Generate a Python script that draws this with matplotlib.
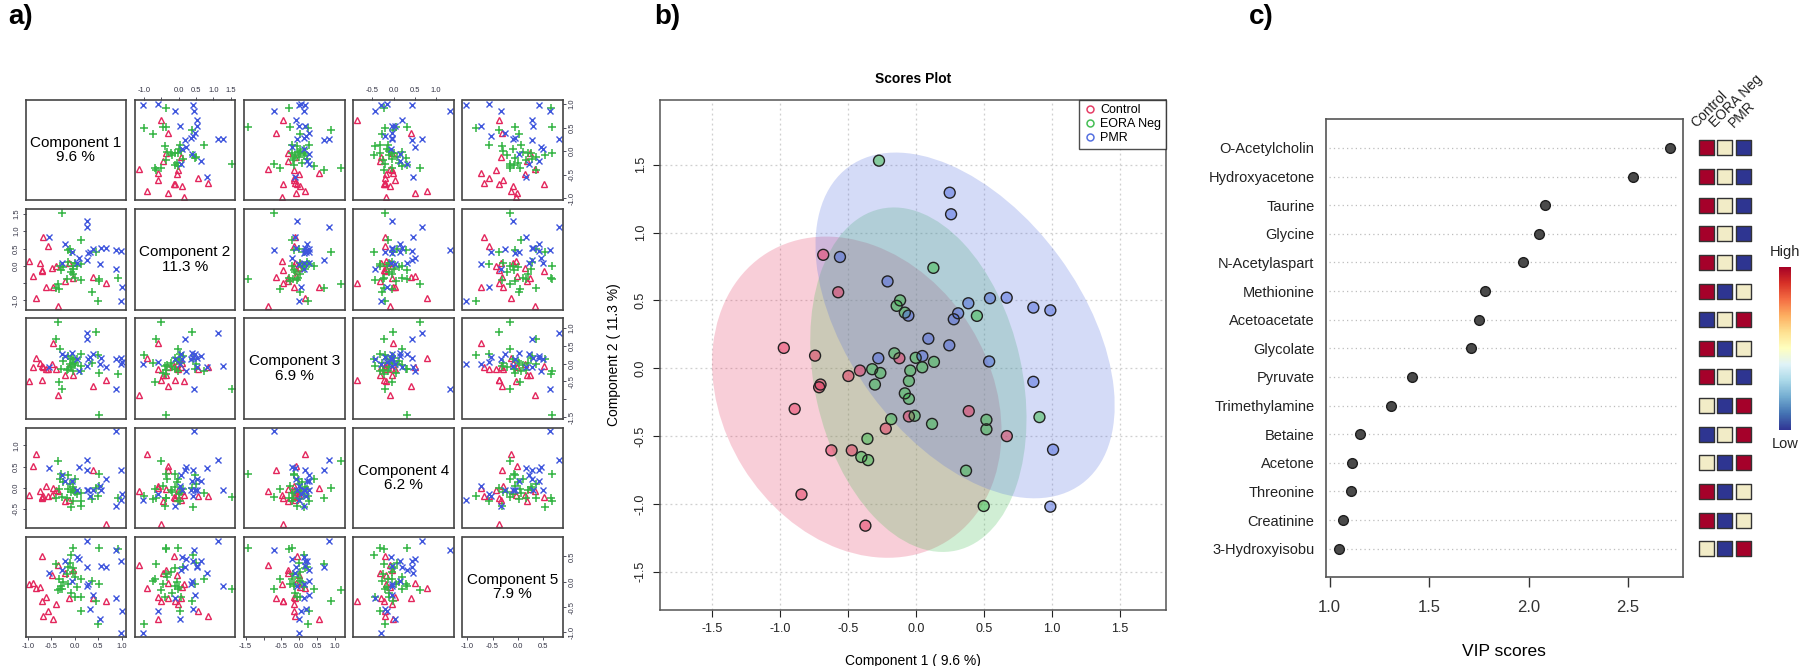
import numpy as np
import matplotlib.pyplot as plt
from matplotlib.patches import Ellipse
from matplotlib.colors import ListedColormap
from matplotlib.lines import Line2D

plt.rcParams['font.family'] = ['Liberation Sans', 'DejaVu Sans']

W, H = 1800, 666

# ---- PLS-DA scores (components 1-5) per group ----
GROUPS = ["Control", "EORA Neg", "PMR"]
EXPLAINED = [9.6, 11.3, 6.9, 6.2, 7.9]

control_c1 = [-0.68, -0.57, -0.97, -0.74, -0.12, -0.41, -0.495, -0.70, -0.71, -0.89, 0.39, 0.67, -0.05, -0.22, -0.62, -0.47, -0.84, -0.37]
control_c2 = [0.836, 0.56, 0.15, 0.093, 0.074, -0.017, -0.057, -0.12, -0.14, -0.30, -0.316, -0.50, -0.355, -0.445, -0.605, -0.605, -0.93, -1.16]
control_c3 = [-0.11, -0.16, -0.485, 0.025, -0.11, -0.16, -0.003, -0.46, -0.07, -0.086, -0.64, -0.46, -0.33, -0.33, -0.16, 0.56, 0.164, -0.87]
control_c4 = [-0.19, -0.19, -0.166, -0.087, -0.29, -0.047, -0.166, -0.23, -0.21, 0.507, 0.42, -0.86, -0.032, -0.32, 0.032, -0.008, 0.784, -0.087]
control_c5 = [-0.674, -0.575, -0.04, -0.10, -0.33, -0.43, 0.13, -0.384, 0.514, -0.02, -0.318, -0.384, 0.23, 0.177, -0.30, -0.727, -0.133, 0.329]

eora_c1 = [-0.27, 0.13, -0.115, -0.14, -0.08, 0.45, -0.157, 0.0, 0.134, -0.32, -0.26, 0.048, -0.04, -0.05, -0.30, -0.08, -0.05, 0.91, 0.52, 0.52, -0.008, 0.12, -0.18, -0.355, -0.40, -0.35, 0.37, 0.50]
eora_c2 = [1.53, 0.74, 0.50, 0.46, 0.41, 0.386, 0.11, 0.077, 0.047, -0.007, -0.035, 0.007, -0.017, -0.094, -0.12, -0.185, -0.225, -0.36, -0.38, -0.45, -0.35, -0.41, -0.375, -0.52, -0.654, -0.677, -0.755, -1.015]
eora_c3 = [-0.72, -0.21, -0.02, -0.16, 0.12, 0.88, 0.21, 0.007, 0.26, 0.41, 0.07, 0.12, -0.21, 0.16, -0.16, -0.11, 0.025, -0.30, -1.44, -0.27, -0.05, -0.07, -0.18, 1.156, 0.69, -0.53, 0.025, 0.23]
eora_c4 = [-0.21, -0.12, 0.087, 0.30, -0.45, -0.016, -0.032, -0.095, -0.31, 0.206, 0.127, -0.15, -0.31, 0.008, 0.325, -0.11, -0.047, -0.23, 0.325, 0.05, 0.206, -0.44, -0.25, 0.626, -0.23, -0.032, -0.27, -0.19]
eora_c5 = [-0.15, 0.05, 0.36, -0.05, 0.527, -0.384, 0.28, -0.30, -0.58, -0.153, -0.001, -0.10, 0.66, 0.26, -0.08, -0.22, 0.20, 0.64, 0.66, -0.05, 0.10, -0.31, 0.16, -0.166, 0.35, 0.045, 0.02, -0.826]

pmr_c1 = [0.25, 0.26, -0.557, -0.207, -0.054, 0.387, 0.546, 0.669, 0.865, 0.99, 0.312, 0.28, 0.093, 0.247, -0.275, 0.049, 0.54, 0.865, 1.01, 0.99]
pmr_c2 = [1.294, 1.135, 0.82, 0.64, 0.388, 0.479, 0.516, 0.52, 0.447, 0.427, 0.405, 0.361, 0.218, 0.169, 0.074, 0.09, 0.05, -0.10, -0.60, -1.02]
pmr_c3 = [-0.07, 0.84, -0.11, 0.21, 0.28, 0.26, 0.16, -0.10, -0.72, 0.15, 0.18, 0.12, -0.21, 0.69, 0.257, 0.12, -0.02, 0.12, 0.05, -0.02]
pmr_c4 = [-0.047, 0.66, 0.47, 0.15, 0.15, -0.047, -0.047, 0.206, 1.33, 0.43, -0.19, -0.047, 0.50, 0.43, 0.31, -0.05, 0.032, -0.43, -0.15, -0.285]
pmr_c5 = [-0.09, 0.81, 0.165, 0.41, 0.02, -0.265, 0.30, 0.28, 0.63, 0.41, -0.53, -0.05, 0.45, 0.28, 0.22, 0.49, -0.73, -0.33, -0.58, -1.02]

# tick labels R drops because they would overlap (per component)
HIDDEN_LABELS = {1: [-0.5], 2: [-1.0]}

# ---- VIP scores ----
VIP_NAMES = ["O-Acetylcholin", "Hydroxyacetone", "Taurine", "Glycine", "N-Acetylaspart",
             "Methionine", "Acetoacetate", "Glycolate", "Pyruvate", "Trimethylamine",
             "Betaine", "Acetone", "Threonine", "Creatinine", "3-Hydroxyisobu"]
VIP_SCORES = [2.708, 2.522, 2.080, 2.050, 1.969, 1.780, 1.750, 1.710, 1.415, 1.306,
              1.152, 1.112, 1.105, 1.067, 1.047]
# relative concentration: 0 = low, 1 = mid, 2 = high
control_level = [2, 2, 2, 2, 2, 2, 0, 2, 2, 1, 0, 1, 2, 2, 1]
eora_level = [1, 1, 1, 1, 1, 0, 1, 0, 1, 0, 1, 0, 0, 0, 0]
pmr_level = [0, 0, 0, 0, 0, 1, 2, 1, 0, 2, 2, 2, 1, 1, 2]

COLORS = ['#E63E66', '#45BE55', '#5570E0']
PAIR_COLORS = ['#E3265C', '#33B443', '#3F56DD']


def box(x0, y0, x1, y1):
    # pixel box (top-left origin) -> figure fraction
    return [x0 / W, 1 - y1 / H, (x1 - x0) / W, (y1 - y0) / H]


scores = [
    [np.array(v) for v in (control_c1, control_c2, control_c3, control_c4, control_c5)],
    [np.array(v) for v in (eora_c1, eora_c2, eora_c3, eora_c4, eora_c5)],
    [np.array(v) for v in (pmr_c1, pmr_c2, pmr_c3, pmr_c4, pmr_c5)],
]

fig = plt.figure(figsize=(18, 6.66), dpi=100)

# ================= a) pairs plot =================
lims = []
for k in range(5):
    allv = np.concatenate([scores[g][k] for g in range(3)])
    r = allv.max() - allv.min()
    lims.append((allv.min() - 0.04 * r, allv.max() + 0.04 * r))


def pair_ticks(k):
    lo, hi = lims[k]
    ticks = [t for t in np.arange(-2.0, 2.01, 0.5) if lo <= t <= hi]
    labels = ['' if any(abs(t - h) < 1e-6 for h in HIDDEN_LABELS.get(k, [])) else f"{t:.1f}"
              for t in ticks]
    return ticks, labels


x0, y0, size, step = 25.7, 100.0, 100.4, 109.2
markers = [dict(marker='^', mfc='none', ms=3.8, mew=1.0),
           dict(marker='+', ms=5.5, mew=1.1),
           dict(marker='x', ms=3.8, mew=1.0)]
for i in range(5):
    for j in range(5):
        left = x0 + j * step
        top = y0 + i * step
        ax = fig.add_axes(box(left, top, left + size, top + size))
        ax.set_xlim(lims[j])
        ax.set_ylim(lims[i])
        for s in ax.spines.values():
            s.set_color('#444444')
            s.set_linewidth(1.2)
        if i == j:
            ax.text(0.5, 0.5, f"Component {i + 1}\n{EXPLAINED[i]} %", ha='center', va='center',
                    fontsize=11, linespacing=1.05, transform=ax.transAxes)
        else:
            for g in range(3):
                ax.plot(scores[g][j], scores[g][i], ls='none', color=PAIR_COLORS[g], **markers[g])
        ax.set_xticks([])
        ax.set_yticks([])
        tick_kw = dict(labelsize=5.5, length=2.5, width=0.6, pad=1.5, colors='#333344')
        if i == 0 and j % 2 == 1:
            t, l = pair_ticks(j)
            ax.set_xticks(t, l)
            ax.xaxis.tick_top()
            ax.tick_params(axis='x', **tick_kw)
        if i == 4 and j % 2 == 0:
            t, l = pair_ticks(j)
            ax.set_xticks(t, l)
            ax.tick_params(axis='x', **tick_kw)
        if j == 0 and i % 2 == 1:
            t, l = pair_ticks(i)
            ax.set_yticks(t, l, rotation=90, va='center')
            ax.tick_params(axis='y', **tick_kw)
        if j == 4 and i % 2 == 0:
            t, l = pair_ticks(i)
            ax.set_yticks(t, l, rotation=90, va='center')
            ax.yaxis.tick_right()
            ax.tick_params(axis='y', **tick_kw)

# ================= b) scores plot =================
axb = fig.add_axes(box(659.5, 100.0, 1165.8, 610.2))
axb.set_xlim(-1.884, 1.839)
axb.set_ylim(-1.783, 1.977)
ticks_b = [-1.5, -1.0, -0.5, 0.0, 0.5, 1.0, 1.5]
axb.set_xticks(ticks_b, [f"{t:.1f}" for t in ticks_b])
axb.set_yticks(ticks_b, [f"{t:.1f}" for t in ticks_b], rotation=90, va='center')
axb.grid(True, color='#CFCFCF', linestyle=(0, (1.5, 2.5)), linewidth=0.9)
axb.set_axisbelow(True)
axb.tick_params(labelsize=9, length=5, width=0.8, colors='#222222', pad=4)
for s in axb.spines.values():
    s.set_color('#555555')
    s.set_linewidth(1.1)

chi = np.sqrt(5.991)  # 95% for 2 dof
for g in range(3):
    x, y = scores[g][0], scores[g][1]
    vals, vecs = np.linalg.eigh(np.cov(x, y))
    order = vals.argsort()[::-1]
    vals, vecs = vals[order], vecs[:, order]
    angle = np.degrees(np.arctan2(vecs[1, 0], vecs[0, 0]))
    e = Ellipse((x.mean(), y.mean()), 2 * chi * np.sqrt(vals[0]), 2 * chi * np.sqrt(vals[1]),
                angle=angle, facecolor=COLORS[g], alpha=0.25, edgecolor='none', zorder=1)
    axb.add_patch(e)
for g in range(3):
    axb.scatter(scores[g][0], scores[g][1], s=62, facecolor=COLORS[g], alpha=0.55,
                edgecolor='none', zorder=3)
    axb.scatter(scores[g][0], scores[g][1], s=62, facecolor='none', edgecolor='#222222',
                linewidth=1.0, zorder=4)

handles = [Line2D([], [], ls='none', marker='o', mfc='none', mec=COLORS[g], ms=5, mew=1.1)
           for g in range(3)]
leg = axb.legend(handles, GROUPS, loc='upper right', fontsize=9, frameon=True, fancybox=False,
                 borderaxespad=0, handletextpad=0.2, handlelength=1.2, labelspacing=0.15,
                 borderpad=0.35)
leg.get_frame().set_edgecolor('#222222')
leg.get_frame().set_linewidth(1.0)
axb.set_title("Scores Plot", fontsize=10, fontweight='bold', pad=12)
axb.set_xlabel(f"Component 1 ( {EXPLAINED[0]} %)", fontsize=10, labelpad=14)
axb.set_ylabel(f"Component 2 ( {EXPLAINED[1]} %)", fontsize=10, labelpad=10)

# ================= c) VIP scores =================
axc = fig.add_axes(box(1325.7, 119.3, 1682.7, 577.3))
ypos = np.arange(len(VIP_NAMES), 0, -1)
axc.set_xlim(0.98, 2.774)
axc.set_ylim(0, len(VIP_NAMES) + 1)
for yy in ypos:
    axc.axhline(yy, xmin=0.01, xmax=0.99, color='#BDBDBD', linestyle=(0, (1, 2.5)),
                linewidth=0.9, zorder=1)
axc.plot(VIP_SCORES, ypos, ls='none', marker='o', ms=7, mfc='#4A4A4A', mec='#1E1E1E',
         mew=1.0, zorder=3)
axc.set_yticks(ypos, VIP_NAMES)
axc.tick_params(axis='y', length=0, labelsize=10.5, pad=8, colors='#222222')
axc.set_xticks([1.0, 1.5, 2.0, 2.5], ['1.0', '1.5', '2.0', '2.5'])
axc.tick_params(axis='x', length=7, width=1.0, labelsize=12, pad=9, colors='#333333')
for s in axc.spines.values():
    s.set_color('#555555')
    s.set_linewidth(1.2)
axc.set_xlabel("VIP scores", fontsize=12.5, labelpad=21)

# heat squares
axh = fig.add_axes(box(1697.0, 119.3, 1752.6, 577.3))
axh.set_xlim(0.5, 3.5)
axh.set_ylim(0, len(VIP_NAMES) + 1)
axh.axis('off')
heat_cmap = ListedColormap(['#2E3591', '#F2ECC7', '#A5012A'])
levels = [control_level, eora_level, pmr_level]
for g in range(3):
    axh.scatter(np.full(len(ypos), g + 1), ypos, c=levels[g], cmap=heat_cmap, vmin=0, vmax=2,
                marker='s', s=118, edgecolors='#333333', linewidths=1.0, clip_on=False)
    axh.text(g + 1 - 0.4, len(VIP_NAMES) + 0.62, GROUPS[g], rotation=45, rotation_mode='anchor',
             ha='left', va='bottom', fontsize=10, color='#222222')

# color key
axk = fig.add_axes(box(1779.3, 266.7, 1791.0, 430.0))
axk.imshow(np.linspace(0, 1, 200)[:, None], aspect='auto', cmap='RdYlBu_r', origin='lower')
axk.axis('off')
fig.text(1785 / W, 1 - 251.7 / H, "High", ha='center', va='center', fontsize=10.5, color='#222222')
fig.text(1785 / W, 1 - 444 / H, "Low", ha='center', va='center', fontsize=10.5, color='#222222')

# panel letters
for lbl, xp in [("a)", 8), ("b)", 654), ("c)", 1249)]:
    fig.text(xp / W, 1 - 4 / H, lbl, ha='left', va='top', fontsize=20, fontweight='bold')

fig.savefig("out.png", dpi=100)
